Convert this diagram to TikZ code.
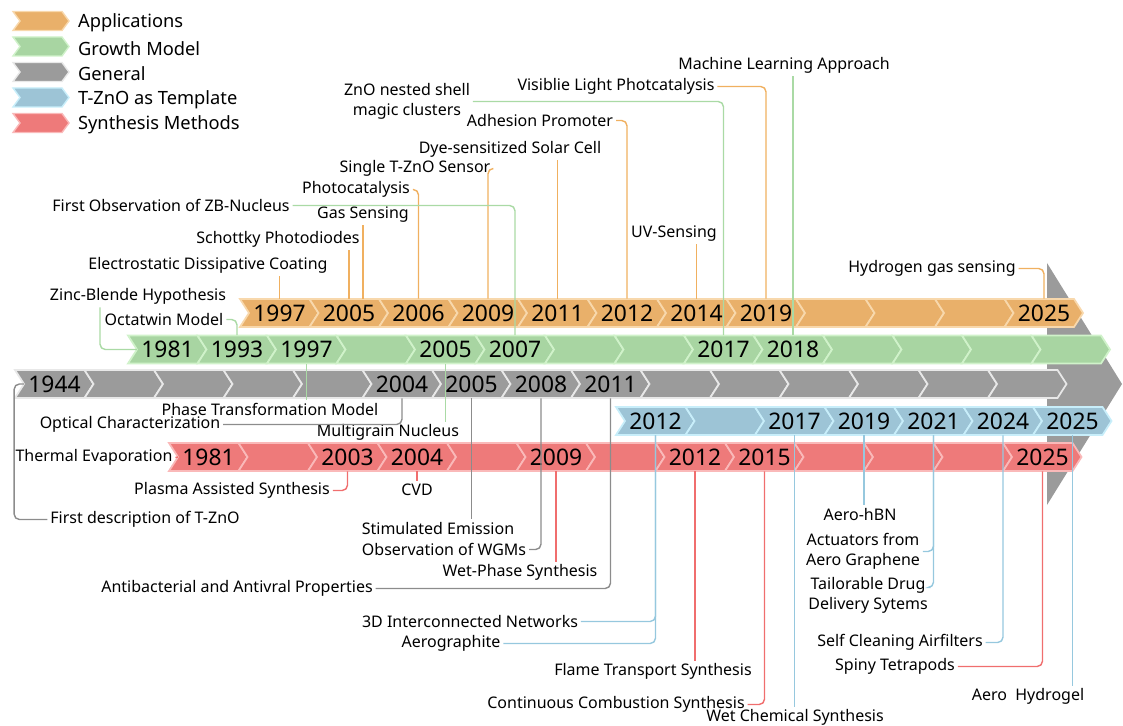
\documentclass[tikz,border=0pt]{standalone}
\usepackage{fontspec}
\setmainfont{Noto Sans}
\usepackage{tikz}
\usetikzlibrary{calc}

\definecolor{appfill}{RGB}{233,176,106}
\definecolor{appedge}{RGB}{248,216,172}
\definecolor{appline}{RGB}{240,176,96}
\definecolor{grfill}{RGB}{168,213,162}
\definecolor{gredge}{RGB}{208,242,202}
\definecolor{grline}{RGB}{170,218,165}
\definecolor{genfill}{RGB}{155,155,155}
\definecolor{genedge}{RGB}{232,232,232}
\definecolor{genline}{RGB}{140,140,140}
\definecolor{tmpfill}{RGB}{157,196,214}
\definecolor{tmpedge}{RGB}{200,238,250}
\definecolor{tmpline}{RGB}{150,200,222}
\definecolor{synfill}{RGB}{238,122,122}
\definecolor{synedge}{RGB}{250,185,185}
\definecolor{synline}{RGB}{240,110,110}

\tikzset{
  lbl/.style={font=\fontsize{9.1}{11.3}\selectfont, inner sep=1.5pt, yshift=-0.03cm},
  leg/.style={font=\fontsize{10.4}{12}\selectfont, inner sep=1pt},
  yr/.style={font=\fontsize{13}{14}\selectfont, inner sep=0pt, minimum width=1.2cm, minimum height=0.56cm},
  cn/.style={line width=0.8pt, rounded corners=3pt},
}

% one chevron: name, left x, centre y, fill, edge, year
\newcommand{\chev}[6]{%
  \filldraw[fill=#4, draw=#5, line width=1pt]
    ({#2},{#3-14}) -- ++(69.5,0) -- ++(9,14) -- ++(-9,14) -- ++(-69.5,0) -- ++(9,-14) -- cycle;
  \node[yr] (#1) at ({#2+39.5},{#3}) {#6};
}

\begin{document}
\begin{tikzpicture}[x=0.02cm, y=-0.02cm]
\useasboundingbox (0,0) rectangle (1123,726);

% legend
\foreach \c/\e/\t [count=\i, evaluate=\i as \ly using 21+25.5*(\i-1)] in {appfill/appedge/Applications, grfill/gredge/Growth Model, genfill/genedge/General, tmpfill/tmpedge/T-ZnO as Template, synfill/synedge/Synthesis Methods} {
  \filldraw[fill=\c, draw=\e, line width=0.8pt] (13,\ly-9.5) -- ++(49,0) -- ++(7,9.5) -- ++(-7,9.5) -- ++(-49,0) -- ++(7,-9.5) -- cycle;
  \node[leg, anchor=west] (leg\i) at (76,\ly+2) {\t};
}

% big arrow head
\fill[genfill] (1047,263) -- (1122,384) -- (1047,505) -- cycle;

% rows
\foreach \t [count=\i, evaluate=\i as \x using 240+69.5*(\i-1)] in {1997,2005,2006,2009,2011,2012,2014,2019,{},{},{},2025}
  \chev{o\i}{\x}{313}{appfill}{appedge}{\t};
\foreach \t [count=\i, evaluate=\i as \x using 128+69.5*(\i-1)] in {1981,1993,1997,{},2005,2007,{},{},2017,2018,{},{},{},{}}
  \chev{g\i}{\x}{349.5}{grfill}{gredge}{\t};
\foreach \t [count=\i, evaluate=\i as \x using 15+69.5*(\i-1)] in {1944,{},{},{},{},2004,2005,2008,2011,{},{},{},{},{},{}}
  \chev{k\i}{\x}{384}{genfill}{genedge}{\t};
\foreach \t [count=\i, evaluate=\i as \x using 616+69.5*(\i-1)] in {2012,{},2017,2019,2021,2024,2025}
  \chev{b\i}{\x}{421}{tmpfill}{tmpedge}{\t};
\foreach \t [count=\i, evaluate=\i as \x using 169+69.5*(\i-1)] in {1981,{},2003,2004,{},2009,{},2012,2015,{},{},{},2025}
  \chev{r\i}{\x}{457}{synfill}{synedge}{\t};

% labels
\node[lbl] (mla) at (784,64) {Machine Learning Approach};
\node[lbl] (vlp) at (616,85) {Visiblie Light Photcatalysis};
\node[lbl, align=center] (zns) at (407,100) {ZnO nested shell\\magic clusters};
\node[lbl] (adh) at (540,119) {Adhesion Promoter};
\node[lbl] (dye) at (510,148) {Dye-sensitized Solar Cell};
\node[lbl] (sts) at (415,167) {Single T-ZnO Sensor};
\node[lbl] (pca) at (356,188) {Photocatalysis};
\node[lbl] (fzb) at (171,204) {First Observation of ZB-Nucleus};
\node[lbl] (gas) at (363,213) {Gas Sensing};
\node[lbl] (uvs) at (674,232) {UV-Sensing};
\node[lbl] (sch) at (278,238) {Schottky Photodiodes};
\node[lbl] (esd) at (208,264) {Electrostatic Dissipative Coating};
\node[lbl] (hgs) at (932,267) {Hydrogen gas sensing};
\node[lbl] (zbh) at (138,295) {Zinc-Blende Hypothesis};
\node[lbl] (oct) at (164,318) {Octatwin Model};
\node[lbl] (ptm) at (270,408) {Phase Transformation Model};
\node[lbl] (opt) at (130,423) {Optical Characterization};
\node[lbl] (mgn) at (388,431) {Multigrain Nucleus};
\node[lbl] (the) at (94,456) {Thermal Evaporation};
\node[lbl] (pas) at (232,489) {Plasma Assisted Synthesis};
\node[lbl] (cvd) at (417,488) {CVD};
\node[lbl] (ahb) at (860,513) {Aero-hBN};
\node[lbl] (ftz) at (145,518) {First description of T-ZnO};
\node[lbl] (ste) at (438,527) {Stimulated Emission};
\node[lbl] (wgm) at (444,548) {Observation of WGMs};
\node[lbl, align=center] (act) at (863,550) {Actuators from\\Aero Graphene};
\node[lbl] (wps) at (520,571) {Wet-Phase Synthesis};
\node[lbl] (abp) at (237,587) {Antibacterial and Antivral Properties};
\node[lbl, align=center] (tds) at (868,594) {Tailorable Drug\\Delivery Sytems};
\node[lbl] (tdn) at (470,620) {3D Interconnected Networks};
\node[lbl] (sca) at (900,641) {Self Cleaning Airfilters};
\node[lbl] (agr) at (451,642) {Aerographite};
\node[lbl] (spt) at (895,665) {Spiny Tetrapods};
\node[lbl] (fts) at (653,670) {Flame Transport Synthesis};
\node[lbl] (ahg) at (1028,695) {Aero~~Hydrogel};
\node[lbl] (ccs) at (616,703) {Continuous Combustion Synthesis};
\node[lbl] (wcs) at (795,716) {Wet Chemical Synthesis};

% applications
\coordinate (o2r) at ($(o2.north)+(14,0)$);
\draw[cn, appline] (o1.north) -- (o1.north |- esd.south);
\draw[cn, appline] (o2.north) -- (o2.north |- sch.south);
\draw[cn, appline] (o2r) -- (o2r |- gas.south);
\draw[cn, appline] (pca.east) -| (o3.north);
\draw[cn, appline] (sts.east) -| (o4.north);
\draw[cn, appline] (o5.north) -- (o5.north |- dye.south);
\draw[cn, appline] (adh.east) -| (o6.north);
\draw[cn, appline] (o7.north) -- (o7.north |- uvs.south);
\draw[cn, appline] (vlp.east) -| (o8.north);
\draw[cn, appline] (hgs.east) -| (o12.north);

% growth model
\draw[cn, grline] ($(zbh.south west)+(53,0)$) |- (g1.west);
\draw[cn, grline] (oct.east) -| (g2.north);
\draw[cn, grline] (fzb.east) -| (g6.north);
\draw[cn, grline] (zns.east) -| (g9.north);
\draw[cn, grline] (g10.north) -- (g10.north |- mla.south);
\draw[cn, grline] (g3.south) -- (g3.south |- ptm.north);
\draw[cn, grline] (g5.south) -- (g5.south |- mgn.north);

% general
\draw[cn, genline] (k1.west) -- ++(-10,0) |- (ftz.west);
\draw[cn, genline] (opt.east) -| (k6.south);
\draw[cn, genline] (k7.south) -- (k7.south |- ste.north);
\draw[cn, genline] (wgm.east) -| (k8.south);
\draw[cn, genline] (abp.east) -| (k9.south);

% template
\draw[cn, tmpline] (tdn.east) -| (b1.south);
\draw[cn, tmpline] (agr.east) -| (b1.south);
\draw[cn, tmpline] (b3.south) -- (b3.south |- wcs.north);
\draw[cn, tmpline] (b4.south) -- (b4.south |- ahb.north);
\draw[cn, tmpline] (act.east) -| (b5.south);
\draw[cn, tmpline] ($(tds.east)+(0,-8)$) -| (b5.south);
\draw[cn, tmpline] (sca.east) -| (b6.south);
\draw[cn, tmpline] (b7.south) -- (b7.south |- ahg.north);

% synthesis
\draw[cn, synline] (the.east) -- (r1.west);
\draw[cn, synline] (pas.east) -| (r3.south);
\draw[cn, synline] (r4.south) -- (cvd.north);
\draw[cn, synline] (r6.south) -- (r6.south |- wps.north);
\draw[cn, synline] (r8.south) -- (r8.south |- fts.north);
\draw[cn, synline] (ccs.east) -| (r9.south);
\draw[cn, synline] (spt.east) -| (r13.south);
\end{tikzpicture}
\end{document}
